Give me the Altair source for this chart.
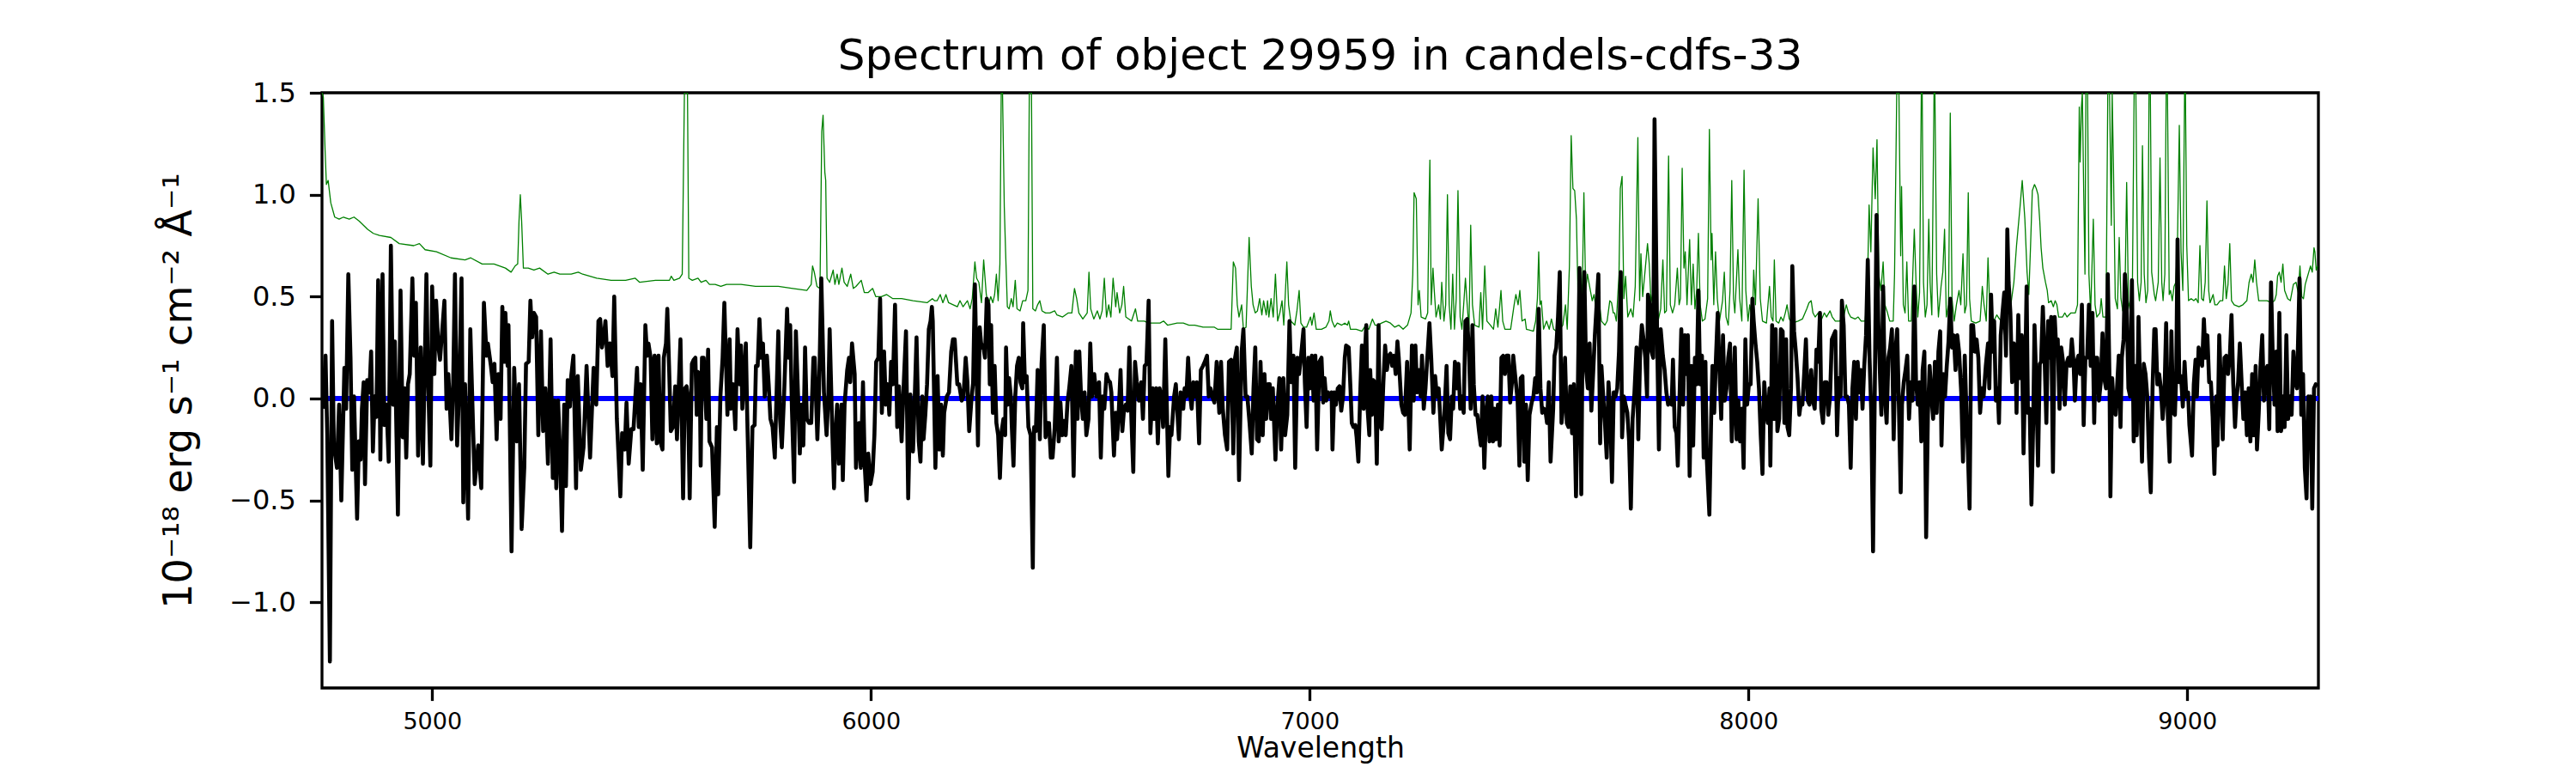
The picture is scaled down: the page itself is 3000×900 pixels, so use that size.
import altair as alt
import pandas as pd

TITLE = "Spectrum of object 29959 in candels-cdfs-33"
X_LABEL = "Wavelength"
Y_LABEL = "10⁻¹⁸ erg s⁻¹ cm⁻² Å⁻¹"
X_TICKS = [5000, 6000, 7000, 8000, 9000]
Y_TICKS = [-1.0, -0.5, 0.0, 0.5, 1.0, 1.5]
X_RANGE = [4749, 9299]
Y_RANGE = [-1.42, 1.5]

# ---- black: object flux (wavelength, flux) ----
flux_a = [(4751,-0.05),(4757,0.21),(4761,-0.18),(4767,-1.29),(4772,0.38),(4776,-0.23),(4783,-0.34),(4788,-0.03),(4793,-0.50),(4800,0.15),(4804,-0.05),(4809,0.61),(4814,0.20),(4818,-0.35),(4822,0.01),(4829,-0.59),(4833,-0.21),(4837,-0.30),(4840,-0.05),(4844,0.08),(4847,-0.42),(4852,0.09),(4857,0.03),(4861,0.23),(4865,-0.26),(4869,0.01),(4873,-0.09),(4877,0.58),(4880,0.20),(4882,-0.30),(4887,0.61),(4891,-0.13),(4896,-0.03),(4901,-0.31),(4906,0.75),(4911,-0.03),(4915,0.28),(4922,-0.57),(4928,0.53),(4933,-0.19),(4937,0.05),(4941,-0.29),(4945,0.07),(4949,0.12),(4955,0.59),(4959,0.21),(4963,0.47),(4968,-0.28),(4974,0.25),(4979,-0.32),(4987,0.61),(4990,0.16),(4996,-0.33),(5000,0.55),(5005,0.12),(5009,0.48),(5014,0.26),(5018,0.19),(5028,0.48),(5033,-0.05),(5037,0.12),(5044,-0.20),(5048,0.08),(5052,0.61),(5057,-0.23),(5062,0.07),(5067,0.59),(5071,-0.51),(5075,0.07),(5082,-0.59),(5087,0.34),(5097,-0.42),(5105,-0.23),(5112,-0.44),(5118,0.47),(5124,0.21),(5127,0.27),(5134,0.16),(5138,0.08),(5142,0.17),(5147,-0.20),(5151,0.12),(5156,-0.10),(5160,0.45),(5164,0.18),(5167,0.42),(5172,0.16),(5174,0.36),(5181,-0.75),(5187,0.15),(5193,-0.21),(5198,0.07),(5204,-0.64),(5210,-0.34),(5214,0.17),(5220,0.18),(5224,0.48),(5228,0.30),(5232,0.42),(5237,0.40),(5242,-0.18),(5248,0.33),(5253,-0.16),(5258,0.05),(5264,-0.32),(5270,0.29),(5275,-0.39),(5279,-0.01),(5283,-0.44),(5287,-0.01),(5291,-0.23),(5296,-0.65),(5301,-0.03),(5305,-0.43),(5309,0.09),(5314,-0.04),(5317,0.11),(5322,0.21),(5328,-0.44),(5332,0.11),(5339,-0.35),(5345,-0.24),(5352,0.16),(5360,-0.29),(5368,0.15),(5374,-0.03),(5379,0.38),(5383,0.39),(5387,0.25),(5391,0.30),(5395,0.38),(5400,0.16),(5405,0.27),(5411,0.11),(5415,0.50),(5421,-0.10),(5429,-0.48),(5433,-0.17),(5439,-0.25),(5443,-0.02),(5448,-0.32),(5454,-0.15),(5459,-0.15),(5467,0.15),(5471,-0.14),(5475,0.07),(5480,-0.35),(5486,0.36),(5490,0.21),(5493,0.27),(5498,0.20),(5502,-0.20),(5507,0.21)]

flux_b = [(5512,-0.22),(5516,0.21),(5520,-0.21),(5525,-0.25),(5528,0.20),(5533,0.27),(5536,0.44),(5540,0.16),(5544,-0.16),(5549,-0.14),(5554,0.06),(5558,-0.20),(5562,0.05),(5566,0.29),(5572,-0.49),(5576,0.05),(5580,0.06),(5583,0.01),(5587,-0.49),(5592,0.17),(5596,0.19),(5600,0.20),(5603,-0.08),(5606,0.13),(5610,0.12),(5612,-0.33),(5615,0.20),(5619,0.20),(5625,-0.10),(5629,0.24),(5632,-0.21),(5638,-0.24),(5644,-0.63),(5649,-0.14),(5652,-0.47),(5657,0.01),(5662,0.20),(5666,0.47),(5670,0.16),(5673,-0.08),(5678,0.29),(5681,-0.05),(5686,0.07),(5691,-0.15),(5696,0.34),(5701,0.07),(5704,0.26),(5707,-0.05),(5715,0.27),(5718,-0.07),(5725,-0.73),(5730,-0.14),(5735,-0.13),(5738,0.16),(5742,0.16),(5746,0.39),(5750,0.20),(5754,0.27),(5758,0.01),(5763,0.21),(5767,0.07),(5771,-0.10),(5776,-0.14),(5781,-0.29),(5789,0.33),(5793,-0.10),(5797,-0.24),(5802,0.01),(5809,0.44),(5812,0.20),(5816,0.36),(5820,-0.05),(5825,-0.41),(5829,0.33),(5835,-0.05),(5838,-0.27),(5842,-0.03),(5846,-0.23),(5850,0.25),(5854,-0.10),(5859,-0.12),(5864,-0.12),(5869,0.20),(5872,0.20),(5878,-0.20),(5882,0.05),(5887,0.59),(5893,0.03),(5899,-0.18),(5903,0.01),(5906,0.34),(5912,-0.16),(5916,-0.44),(5919,-0.18),(5923,-0.03),(5927,-0.32),(5933,-0.03),(5936,-0.40),(5940,-0.03),(5946,0.14),(5950,0.20),(5953,0.08),(5957,0.27),(5963,0.12),(5966,-0.34),(5973,-0.12),(5977,-0.34),(5982,0.08),(5986,-0.33),(5990,-0.50),(5994,-0.27),(5999,-0.42),(6004,-0.36),(6008,-0.18),(6012,0.18),(6017,0.20),(6021,0.49),(6025,-0.07),(6030,0.23),(6034,-0.03),(6038,0.07),(6042,-0.08),(6046,0.18),(6050,0.07),(6055,0.46),(6060,-0.14),(6064,0.06),(6070,-0.21),(6075,0.08),(6080,0.33),(6085,-0.49),(6090,0.02),(6096,-0.26),(6100,0.01),(6104,0.30),(6109,-0.21),(6113,-0.31),(6117,0.01),(6120,-0.20),(6124,-0.08),(6128,0.07),(6132,0.34),(6136,0.38),(6139,0.45),(6141,0.38),(6147,-0.34),(6152,0.11),(6156,-0.25),(6160,-0.03),(6164,-0.28),(6167,-0.07),(6173,0.01),(6178,0.03),(6183,0.23),(6187,0.29),(6191,0.29),(6197,0.07),(6201,0.07),(6207,-0.01),(6211,0.01),(6216,0.20),(6220,0.08),(6224,-0.16),(6229,-0.01),(6233,0.08),(6237,0.56),(6242,0.01),(6244,-0.23),(6248,0.35),(6252,0.25),(6256,0.26),(6260,0.20),(6264,0.49),(6268,0.46)]

flux_c = [(6271,0.07),(6274,0.36),(6278,-0.07),(6282,0.16),(6286,-0.12),(6290,-0.18),(6294,-0.39),(6298,-0.16),(6302,-0.10),(6306,-0.18),(6308,0.25),(6312,-0.03),(6315,0.10),(6319,0.01),(6321,-0.13),(6325,-0.33),(6329,0.01),(6333,0.16),(6337,0.20),(6341,0.08),(6345,0.05),(6347,0.37),(6351,0.08),(6355,0.11),(6359,-0.14),(6364,-0.18),(6369,-0.83),(6372,-0.14),(6376,-0.16),(6380,0.14),(6385,-0.20),(6389,0.17),(6394,0.36),(6398,-0.19),(6402,-0.12),(6406,-0.12),(6410,-0.29),(6414,-0.29),(6419,-0.14),(6424,0.20),(6428,-0.21),(6432,-0.02),(6436,-0.18),(6440,-0.11),(6444,-0.18),(6448,-0.02),(6452,0.05),(6457,0.16),(6462,-0.38),(6467,0.23),(6471,-0.10),(6475,0.23),(6479,0.01),(6483,-0.10),(6487,0.03),(6491,-0.18),(6496,-0.10),(6500,0.27),(6504,0.01),(6509,0.12),(6514,0.01),(6520,0.08),(6524,-0.29),(6528,0.01),(6532,-0.05),(6537,0.12),(6541,0.09),(6545,0.08),(6548,0.03),(6554,-0.28),(6558,-0.07),(6561,-0.20),(6565,-0.06),(6569,0.14),(6573,-0.16),(6577,-0.05),(6581,-0.03),(6585,-0.06),(6589,0.25),(6594,-0.12),(6598,-0.36),(6602,0.18),(6606,0.08),(6611,-0.01),(6616,0.08),(6620,-0.10),(6624,0.16),(6628,0.17),(6633,0.48),(6637,-0.17),(6642,0.05),(6646,-0.10),(6650,0.05),(6654,-0.22),(6658,0.05),(6662,0.01),(6666,-0.14),(6671,0.29),(6678,-0.38),(6682,-0.14),(6685,-0.18),(6691,0.01),(6695,0.07),(6698,-0.05),(6702,-0.20),(6706,0.03),(6712,-0.05),(6715,0.05),(6719,0.01),(6723,0.20),(6727,0.03),(6731,-0.05),(6735,0.08),(6739,0.01),(6743,0.08),(6748,-0.22),(6752,0.14),(6757,0.16),(6761,0.18),(6766,0.21),(6770,0.01),(6774,0.05),(6778,0.01),(6783,-0.02),(6788,0.18),(6794,-0.07),(6798,0.18),(6802,-0.05),(6807,-0.18),(6812,-0.25),(6816,0.18),(6821,0.19),(6826,-0.27),(6830,0.20),(6834,0.25),(6839,-0.40),(6845,0.23),(6849,0.34),(6854,0.01),(6858,0.01),(6863,-0.12),(6868,-0.27),(6872,0.05),(6876,0.25),(6880,-0.20),(6884,-0.21),(6888,0.18),(6893,-0.18),(6897,0.12),(6901,-0.10),(6905,0.07),(6909,0.07),(6912,-0.10),(6916,0.05),(6922,-0.30),(6926,-0.05),(6931,0.10),(6935,-0.25),(6940,0.10),(6944,-0.18),(6949,-0.08),(6954,0.38),(6958,0.08),(6963,0.21),(6967,-0.34),(6972,0.20),(6976,0.12),(6980,0.20),(6986,0.34),(6989,0.08),(6993,-0.14),(6997,0.20),(7001,0.05),(7005,0.21),(7009,-0.01),(7013,0.21),(7017,-0.25),(7022,0.18),(7027,0.20)]

flux_d = [(7031,-0.02),(7034,0.10),(7038,-0.01),(7042,0.03),(7046,0.01),(7050,0.03),(7052,-0.25),(7056,0.03),(7060,-0.03),(7064,0.05),(7068,0.06),(7072,-0.06),(7076,0.01),(7080,0.20),(7083,0.26),(7089,0.25),(7093,0.05),(7096,-0.12),(7100,-0.14),(7104,-0.13),(7107,-0.19),(7111,-0.31),(7115,0.01),(7119,0.26),(7123,-0.05),(7125,0.18),(7129,0.36),(7132,-0.05),(7136,-0.18),(7138,0.14),(7142,-0.08),(7145,0.09),(7149,0.08),(7153,-0.32),(7157,0.36),(7160,-0.12),(7164,-0.15),(7168,0.08),(7172,0.26),(7176,0.14),(7180,0.21),(7184,0.22),(7188,0.16),(7192,0.21),(7196,0.12),(7200,0.28),(7203,0.20),(7209,-0.03),(7213,-0.07),(7217,-0.08),(7222,0.18),(7228,-0.25),(7233,0.26),(7237,-0.01),(7241,0.26),(7245,0.03),(7249,0.14),(7253,0.01),(7256,0.21),(7260,-0.05),(7264,0.05),(7267,0.16),(7273,0.37),(7277,0.20),(7282,-0.07),(7286,0.11),(7290,0.01),(7294,0.05),(7297,-0.07),(7301,-0.25),(7307,-0.08),(7312,0.16),(7316,-0.17),(7320,-0.20),(7324,0.01),(7327,-0.05),(7331,0.18),(7335,0.05),(7339,0.17),(7343,-0.05),(7347,0.01),(7351,-0.07),(7355,0.38),(7359,0.39),(7363,0.23),(7367,-0.05),(7371,0.36),(7374,0.07),(7378,-0.08),(7382,-0.08),(7386,-0.16),(7390,-0.23),(7394,0.01),(7398,-0.34),(7402,-0.07),(7406,0.01),(7410,-0.21),(7414,0.01),(7418,-0.21),(7421,-0.05),(7425,-0.20),(7429,-0.03),(7433,-0.23),(7437,0.20),(7441,0.21),(7445,0.12),(7449,0.21),(7453,0.21),(7457,-0.02),(7461,0.08),(7464,0.21),(7468,0.12),(7474,-0.01),(7478,-0.33),(7481,0.10),(7485,0.11),(7489,-0.31),(7493,-0.03),(7497,-0.40),(7501,-0.08),(7506,-0.02),(7510,0.01),(7514,0.10),(7518,0.03),(7522,0.44),(7526,0.05),(7530,-0.07),(7534,-0.05),(7538,-0.07),(7541,-0.12),(7545,0.08),(7549,-0.31),(7555,-0.05),(7558,0.21),(7562,0.25),(7566,0.40),(7570,0.62),(7574,-0.12),(7578,-0.03),(7582,0.20),(7586,-0.12),(7590,-0.14),(7594,0.06),(7598,-0.17),(7602,0.07),(7607,-0.48),(7611,0.01),(7615,0.64),(7619,-0.47),(7622,0.33),(7626,0.62),(7630,0.14),(7634,0.05),(7638,0.27),(7642,-0.06),(7646,0.12),(7650,0.31),(7654,0.46),(7658,0.61),(7662,-0.22),(7665,0.16),(7669,0.01),(7673,-0.12),(7677,-0.29),(7681,0.08),(7685,-0.06),(7689,-0.41),(7693,0.03),(7697,0.01),(7701,0.05),(7705,0.23),(7709,0.62),(7712,-0.19),(7716,0.01),(7720,-0.03),(7724,-0.07),(7728,-0.21),(7732,-0.54),(7736,-0.10),(7740,0.02),(7745,0.25),(7749,-0.20),(7753,0.21),(7757,0.36),(7761,0.29),(7765,0.20),(7769,0.01),(7771,0.51),(7775,0.46),(7779,0.23),(7783,0.20),(7786,1.37)]

flux_e = [(7792,0.29),(7796,-0.25),(7800,0.34),(7805,0.21),(7809,0.14),(7813,0.03),(7817,-0.03),(7821,-0.01),(7825,-0.03),(7828,0.19),(7832,-0.14),(7836,-0.17),(7839,-0.33),(7843,0.01),(7847,0.34),(7851,-0.03),(7855,0.31),(7858,0.12),(7862,0.31),(7866,-0.38),(7870,0.16),(7874,-0.23),(7878,0.20),(7882,0.07),(7886,0.53),(7890,0.07),(7894,0.21),(7898,-0.29),(7902,0.18),(7905,-0.29),(7911,-0.57),(7915,-0.10),(7918,0.16),(7922,-0.07),(7926,0.20),(7930,0.42),(7934,0.14),(7938,-0.10),(7942,0.31),(7946,-0.01),(7950,0.05),(7954,0.20),(7958,0.27),(7962,-0.21),(7965,-0.03),(7969,0.25),(7973,-0.20),(7977,-0.01),(7981,-0.21),(7985,-0.05),(7989,-0.34),(7993,0.29),(7997,-0.03),(8001,0.07),(8005,0.07),(8009,0.49),(8012,0.38),(8016,0.27),(8020,0.18),(8024,0.05),(8028,-0.18),(8032,-0.37),(8036,0.08),(8040,-0.05),(8044,-0.12),(8048,0.05),(8050,-0.33),(8054,0.36),(8058,-0.10),(8062,0.34),(8066,-0.16),(8070,-0.10),(8074,0.34),(8078,0.33),(8082,-0.12),(8086,0.29),(8089,-0.14),(8093,-0.18),(8097,0.05),(8100,0.65),(8104,0.33),(8108,0.23),(8112,0.10),(8116,-0.08),(8120,-0.01),(8123,-0.03),(8127,0.12),(8131,0.29),(8135,-0.01),(8139,-0.03),(8143,0.14),(8147,-0.01),(8151,-0.05),(8155,0.24),(8159,0.18),(8163,0.42),(8166,-0.05),(8170,-0.12),(8174,0.08),(8178,0.08),(8182,-0.08),(8186,0.01),(8190,0.29),(8194,0.31),(8198,0.33),(8202,-0.18),(8206,0.10),(8210,0.01),(8213,0.48),(8217,0.36),(8221,0.01),(8225,0.01),(8229,-0.03),(8233,-0.34),(8237,0.05),(8241,0.18),(8245,-0.10),(8249,0.18),(8253,0.03),(8256,0.14),(8260,-0.05),(8264,0.16),(8268,0.31),(8272,0.68),(8276,0.20),(8280,-0.07),(8284,-0.75),(8288,0.05),(8292,0.90),(8296,0.38),(8300,0.10),(8303,-0.08),(8307,0.55),(8311,0.01),(8315,-0.12),(8319,0.20),(8323,0.25),(8327,0.34),(8331,-0.20),(8335,0.23),(8339,0.34),(8343,-0.05),(8347,-0.46),(8350,-0.03),(8354,0.08),(8358,0.14),(8362,0.21),(8366,-0.10),(8370,0.08),(8374,-0.01),(8378,0.55),(8382,0.08),(8386,-0.03),(8390,0.08),(8394,-0.21),(8397,0.14),(8401,0.23),(8405,-0.68),(8409,-0.08),(8413,0.16),(8417,0.01),(8421,-0.10),(8425,0.18),(8429,-0.07),(8433,0.23),(8437,0.33),(8440,-0.23),(8444,0.12),(8448,0.01),(8452,0.16),(8456,0.28),(8460,0.49),(8464,0.25),(8468,0.31),(8472,0.14),(8476,0.31),(8480,0.23),(8485,0.03),(8489,-0.31),(8493,0.21),(8497,-0.08),(8500,-0.25),(8504,-0.54),(8508,0.36),(8512,0.36),(8516,0.23),(8520,0.29),(8524,0.20),(8528,-0.07),(8532,0.05),(8536,0.01),(8541,0.16),(8546,0.27)]

flux_f = [(8549,0.05),(8553,0.51),(8557,0.23),(8560,0.38),(8564,-0.01),(8568,0.05),(8571,-0.12),(8575,0.31),(8579,0.42),(8583,0.52),(8587,0.21),(8590,0.83),(8593,0.57),(8597,0.42),(8601,0.08),(8605,0.27),(8609,0.20),(8611,-0.07),(8615,0.41),(8619,0.10),(8623,0.31),(8627,-0.27),(8631,0.16),(8634,0.55),(8637,-0.07),(8641,-0.05),(8645,-0.52),(8649,-0.12),(8652,0.36),(8656,0.08),(8660,-0.33),(8664,0.17),(8667,0.18),(8671,0.45),(8675,0.20),(8679,-0.12),(8683,0.38),(8687,0.20),(8690,0.40),(8694,-0.36),(8698,0.40),(8701,0.27),(8705,0.29),(8709,-0.05),(8713,0.25),(8717,0.18),(8721,-0.03),(8725,0.17),(8729,0.20),(8733,0.16),(8737,0.29),(8741,0.18),(8744,-0.01),(8748,0.18),(8752,0.21),(8756,0.12),(8760,0.46),(8764,-0.13),(8768,0.20),(8772,0.20),(8776,0.46),(8780,0.16),(8784,0.42),(8788,-0.12),(8791,0.20),(8795,0.20),(8799,-0.01),(8803,0.08),(8807,0.32),(8811,0.10),(8815,0.05),(8819,0.61),(8823,0.08),(8825,-0.48),(8829,0.10),(8833,-0.05),(8837,-0.08),(8840,0.05),(8844,0.21),(8848,-0.14),(8851,0.20),(8855,0.29),(8858,0.61),(8862,0.46),(8866,0.05),(8870,0.01),(8874,0.58),(8878,-0.21),(8882,0.16),(8885,-0.18),(8889,0.40),(8893,0.01),(8897,-0.31),(8901,0.17),(8905,0.12),(8909,0.01),(8913,-0.29),(8917,-0.46),(8921,0.05),(8925,0.34),(8928,0.34),(8932,0.07),(8936,0.12),(8940,0.05),(8944,-0.10),(8948,0.01),(8952,0.37),(8956,-0.10),(8960,-0.31),(8964,0.33),(8968,-0.07),(8972,-0.08),(8975,0.12),(8978,0.78),(8982,0.08),(8986,0.11),(8990,-0.04),(8994,0.18),(8998,0.01),(9002,0.03),(9005,-0.13),(9011,-0.28),(9015,0.07),(9019,0.19),(9022,0.01),(9026,0.25),(9030,0.20),(9034,0.16),(9038,0.39),(9042,0.20),(9046,0.31),(9050,0.08),(9054,0.08),(9058,-0.09),(9062,-0.37),(9066,0.01),(9069,-0.23),(9073,0.31),(9077,0.05),(9081,-0.20),(9085,0.20),(9089,0.21),(9093,0.12),(9097,0.20),(9101,0.41),(9105,0.07),(9109,-0.14),(9112,-0.01),(9116,0.08),(9120,0.27),(9124,0.08),(9128,-0.10),(9132,0.03),(9136,-0.18),(9140,0.05),(9144,-0.21),(9148,0.12),(9152,-0.18),(9156,0.16),(9159,-0.25),(9163,-0.07),(9167,0.16),(9171,0.31),(9175,-0.01),(9179,0.14),(9183,0.16),(9187,-0.15),(9191,0.57),(9195,0.20),(9199,-0.03),(9203,0.23),(9206,-0.16),(9210,0.42),(9214,-0.16),(9218,0.01),(9222,-0.14),(9226,0.31),(9230,-0.10),(9234,0.01),(9238,-0.08),(9242,0.23),(9246,0.08),(9250,0.05),(9253,0.31),(9256,0.59),(9260,-0.08),(9264,0.12),(9268,-0.34),(9272,-0.49),(9276,0.01),(9278,-0.07),(9281,0.01),(9285,-0.54),(9289,0.05),(9293,0.07),(9297,0.06)]

# ---- green: noise / sky spectrum (wavelength, value); 1.6 = runs off the top ----
sky_a = [(4749,1.6),(4752,1.48),(4756,1.22),(4759,1.05),(4763,1.07),(4769,0.96),(4778,0.89),(4788,0.88),(4798,0.89),(4811,0.88),(4822,0.89),(4834,0.87),(4853,0.83),(4866,0.81),(4880,0.80),(4906,0.79),(4925,0.76),(4958,0.75),(4971,0.76),(4984,0.73),(5010,0.72),(5043,0.69),(5075,0.68),(5088,0.69),(5114,0.66),(5141,0.66),(5167,0.64),(5180,0.62),(5189,0.65),(5195,0.66),(5198,0.87),(5201,1.00),(5204,0.87),(5208,0.64),(5219,0.64),(5232,0.63),(5245,0.64),(5264,0.61),(5278,0.62),(5291,0.61),(5317,0.61),(5333,0.62),(5343,0.61),(5375,0.59),(5408,0.58),(5441,0.58),(5463,0.59),(5473,0.57),(5509,0.58)]

sky_b = [(5541,0.58),(5545,0.60),(5551,0.58),(5564,0.59),(5570,0.61),(5575,1.6),(5582,1.6),(5585,0.59),(5593,0.58),(5606,0.59),(5613,0.57),(5624,0.58),(5632,0.56),(5645,0.56),(5658,0.55),(5671,0.56),(5704,0.56),(5737,0.55),(5769,0.55),(5789,0.55),(5822,0.54),(5854,0.53),(5864,0.56),(5867,0.65),(5871,0.62),(5877,0.55),(5884,0.54),(5888,1.31),(5891,1.39),(5895,1.11),(5897,1.07),(5900,0.59),(5906,0.57),(5914,0.63),(5918,0.56),(5923,0.61),(5927,0.56),(5934,0.64),(5939,0.57),(5946,0.55),(5954,0.61),(5960,0.54),(5966,0.55),(5978,0.58),(5985,0.52),(5994,0.52),(6004,0.54),(6011,0.50),(6024,0.50),(6036,0.51),(6050,0.49),(6070,0.49),(6096,0.48),(6128,0.47),(6140,0.49),(6145,0.48),(6151,0.48),(6158,0.51),(6164,0.47),(6171,0.51),(6177,0.47),(6197,0.45),(6203,0.48),(6210,0.45),(6220,0.48),(6226,0.44),(6231,0.49),(6237,0.67),(6241,0.59),(6246,0.57),(6252,0.47),(6257,0.68),(6263,0.51)]

sky_c = [(6268,0.46),(6273,0.50),(6278,0.47),(6282,0.51),(6286,0.61),(6290,0.48),(6294,0.66),(6297,1.6),(6300,1.6),(6304,0.94),(6307,0.72),(6311,0.45),(6315,0.44),(6320,0.49),(6324,0.45),(6329,0.58),(6333,0.44),(6340,0.43),(6346,0.48),(6353,0.48),(6358,0.53),(6361,1.6),(6366,1.6),(6369,0.44),(6375,0.43),(6380,0.46),(6385,0.48),(6390,0.43),(6398,0.42),(6408,0.42),(6419,0.43),(6424,0.41),(6437,0.40),(6450,0.42),(6458,0.42),(6464,0.54),(6469,0.49),(6474,0.42),(6483,0.39),(6493,0.42),(6497,0.62),(6501,0.44),(6508,0.39),(6516,0.43),(6522,0.39),(6527,0.43),(6532,0.59),(6537,0.40),(6542,0.46),(6547,0.40),(6552,0.59),(6558,0.45),(6561,0.52),(6567,0.42),(6572,0.46),(6576,0.55),(6581,0.40),(6594,0.38),(6603,0.44),(6608,0.38),(6623,0.38),(6633,0.37),(6659,0.37),(6667,0.38),(6676,0.36),(6698,0.37),(6712,0.37),(6725,0.36),(6738,0.36),(6757,0.35),(6783,0.35),(6790,0.34),(6821,0.34),(6826,0.67),(6831,0.64),(6835,0.46),(6839,0.40),(6845,0.46),(6849,0.34),(6855,0.35),(6862,0.79),(6867,0.55),(6871,0.46),(6876,0.42),(6881,0.43),(6886,0.49),(6891,0.41),(6895,0.48),(6901,0.41),(6904,0.48),(6907,0.40),(6912,0.49),(6917,0.40),(6922,0.61),(6927,0.38),(6932,0.42),(6937,0.48),(6941,0.36),(6948,0.67),(6952,0.46),(6957,0.38),(6966,0.36),(6971,0.43),(6976,0.53),(6980,0.37),(6986,0.35),(6993,0.35),(7002,0.40),(7005,0.36),(7010,0.42),(7015,0.34),(7027,0.34)]

sky_d = [(7037,0.35),(7044,0.38),(7047,0.43),(7051,0.38),(7057,0.35),(7063,0.37),(7073,0.36),(7080,0.37),(7086,0.36),(7089,0.38),(7093,0.34),(7106,0.34),(7119,0.33),(7125,0.35),(7135,0.34),(7143,0.39),(7149,0.36),(7155,0.36),(7164,0.37),(7174,0.38),(7184,0.37),(7194,0.35),(7203,0.36),(7213,0.34),(7223,0.36),(7231,0.42),(7235,0.61),(7238,1.01),(7243,0.98),(7247,0.46),(7250,0.53),(7254,0.40),(7264,0.39),(7269,0.42),(7272,0.94),(7274,1.17),(7277,0.46),(7281,0.64),(7284,0.53),(7288,0.40),(7294,0.46),(7298,0.39),(7301,0.57),(7306,0.38),(7310,0.46),(7314,1.00),(7318,0.46),(7322,0.34),(7326,0.61),(7330,0.34),(7334,0.49),(7338,1.02),(7343,0.40),(7347,0.34),(7351,0.46),(7355,0.59),(7359,0.46),(7363,0.34),(7367,0.85),(7371,0.46),(7376,0.36),(7386,0.35),(7390,0.52),(7394,0.34),(7399,0.65),(7404,0.38),(7412,0.36),(7419,0.34),(7424,0.44),(7429,0.35),(7436,0.53),(7440,0.38),(7445,0.34),(7458,0.34),(7466,0.46),(7470,0.51),(7475,0.46),(7479,0.53),(7484,0.38),(7491,0.39),(7494,0.34),(7510,0.33),(7515,0.38),(7519,0.49),(7522,0.72),(7525,0.46),(7528,0.48),(7533,0.34),(7540,0.38),(7546,0.34),(7551,0.39),(7556,0.34),(7562,0.33),(7570,0.34),(7577,0.36),(7583,0.46),(7587,0.34),(7592,0.65),(7596,1.29),(7600,1.03),(7604,1.02),(7608,0.88),(7612,0.46),(7617,0.62),(7621,0.49),(7625,1.01),(7629,0.53),(7633,0.61),(7638,0.55),(7644,0.48),(7648,0.51),(7654,0.42),(7660,0.47),(7665,0.38),(7673,0.36),(7678,0.38),(7684,0.48),(7688,0.47),(7692,0.42),(7695,0.42),(7699,0.38),(7705,0.61),(7708,1.03),(7712,1.09),(7716,0.49),(7720,0.60),(7725,0.40),(7732,0.44),(7737,0.40),(7742,0.55),(7748,1.28),(7752,0.48),(7755,0.71),(7759,0.50),(7765,0.64),(7770,0.76),(7774,0.66),(7778,0.47),(7783,0.53),(7787,0.45)]

sky_e = [(7792,0.36),(7796,0.40),(7800,0.44),(7805,0.68),(7809,0.42),(7813,0.43),(7818,1.19),(7822,0.46),(7827,0.42),(7832,0.46),(7838,0.64),(7842,0.46),(7845,0.49),(7849,1.13),(7853,0.64),(7856,0.72),(7860,0.46),(7864,0.68),(7866,0.78),(7870,0.46),(7874,0.66),(7878,0.44),(7882,0.53),(7886,0.81),(7890,0.46),(7895,0.38),(7901,0.39),(7907,0.49),(7911,1.32),(7915,0.68),(7917,0.81),(7921,0.46),(7925,0.72),(7929,0.49),(7934,0.38),(7941,0.48),(7945,0.62),(7949,0.40),(7954,0.36),(7958,0.53),(7962,1.07),(7966,0.49),(7969,0.42),(7976,0.73),(7980,0.49),(7985,0.38),(7990,1.12),(7994,0.53),(7999,0.38),(8003,0.46),(8009,0.38),(8012,0.63),(8016,0.46),(8022,0.98),(8027,0.49),(8032,0.38),(8041,0.37),(8048,0.55),(8052,0.40),(8056,0.38),(8059,0.68),(8063,0.38),(8069,0.37),(8074,0.40),(8079,0.38),(8084,0.42),(8088,0.46),(8093,0.39),(8100,0.37),(8113,0.38),(8123,0.39),(8133,0.44),(8138,0.47),(8143,0.48),(8147,0.42),(8152,0.40),(8159,0.42),(8165,0.38),(8173,0.42),(8178,0.40),(8186,0.43),(8191,0.40),(8198,0.38),(8208,0.38),(8217,0.40),(8223,0.46),(8228,0.42),(8233,0.40),(8243,0.39),(8250,0.40),(8257,0.38),(8266,0.38),(8271,0.53),(8275,0.95),(8279,0.72),(8284,1.23),(8289,0.98),(8293,1.27),(8297,0.61),(8302,0.53),(8307,0.67),(8311,0.46),(8317,0.42),(8322,0.38),(8330,0.38),(8333,0.61),(8338,1.6),(8343,1.6),(8347,0.70),(8349,1.04),(8353,0.46),(8357,0.42),(8361,0.67),(8365,0.38),(8371,0.38),(8378,0.83),(8382,0.57),(8386,0.40),(8390,0.52),(8394,1.6),(8396,1.6),(8399,0.57),(8403,0.40),(8407,0.46),(8411,0.88),(8414,0.57),(8418,0.41),(8423,1.6),(8425,1.6),(8429,0.61),(8433,0.40),(8439,0.55),(8443,0.62),(8447,0.83),(8451,0.40),(8456,0.46),(8460,1.40),(8464,0.49),(8469,0.38),(8474,0.46),(8480,0.53),(8484,0.46),(8489,0.71),(8493,0.42),(8497,0.46),(8501,1.01),(8504,0.49),(8508,0.38),(8518,0.37),(8528,0.38),(8533,0.55),(8537,0.46),(8542,0.38),(8546,0.69)]

sky_f = [(8551,0.38),(8559,0.38),(8566,0.41),(8572,0.39),(8579,0.38),(8585,0.42),(8592,0.43),(8598,0.46),(8605,0.57),(8611,0.75),(8619,0.94),(8624,1.07),(8630,0.88),(8635,0.62),(8639,0.51),(8643,0.75),(8647,1.02),(8652,1.05),(8656,1.03),(8660,1.00),(8664,0.87),(8667,0.74),(8671,0.64),(8677,0.57),(8681,0.53),(8684,0.47),(8690,0.48),(8695,0.45),(8699,0.48),(8703,0.46),(8707,0.40),(8716,0.40),(8721,0.42),(8726,0.40),(8735,0.42),(8745,0.42),(8750,0.46),(8754,1.43),(8756,1.16),(8759,1.43),(8761,1.6),(8764,1.03),(8767,0.61),(8769,1.6),(8773,1.6),(8776,0.61),(8780,0.42),(8786,0.88),(8790,0.46),(8794,0.40),(8801,0.42),(8804,0.49),(8808,0.40),(8815,0.40),(8819,1.6),(8823,1.6),(8827,0.85),(8829,1.6),(8832,1.13),(8836,0.49),(8841,0.44),(8845,0.79),(8849,0.49),(8853,0.43),(8858,0.49),(8862,1.06),(8866,0.48),(8870,0.43),(8875,0.53),(8879,1.6),(8883,1.6),(8887,0.57),(8891,0.48),(8895,0.57),(8898,1.24),(8902,0.61),(8906,0.47),(8910,0.53),(8913,1.6),(8916,1.6),(8919,0.62),(8925,0.51),(8928,0.48),(8934,0.57),(8938,1.18),(8942,0.57),(8945,0.48),(8949,0.61),(8952,1.6),(8955,1.6),(8959,0.51),(8962,0.53),(8966,0.48),(8970,0.55),(8974,0.57),(8978,0.79),(8982,1.34),(8986,0.72),(8990,0.53),(8994,1.6),(8996,1.6),(8999,0.75),(9003,0.48),(9009,0.49),(9015,0.48),(9020,0.49),(9025,0.47),(9029,0.75),(9033,0.49),(9037,0.48),(9041,0.57),(9045,0.97),(9049,0.53),(9052,0.47),(9059,0.51),(9063,0.46),(9068,0.46),(9075,0.48),(9081,0.48),(9085,0.65),(9089,0.49),(9093,0.56),(9097,0.76),(9101,0.48),(9107,0.46),(9118,0.45),(9127,0.46),(9136,0.48),(9141,0.57),(9146,0.61),(9150,0.57),(9154,0.68),(9158,0.57),(9163,0.48),(9173,0.48),(9182,0.48),(9192,0.47),(9199,0.48),(9203,0.51),(9206,0.60),(9210,0.62),(9214,0.57),(9218,0.66),(9222,0.53),(9229,0.49),(9235,0.48),(9242,0.56),(9248,0.57),(9253,0.52),(9257,0.65),(9261,0.50),(9265,0.49),(9269,0.56),(9273,0.59),(9277,0.62),(9281,0.65),(9285,0.62),(9289,0.74),(9291,0.72),(9294,0.63),(9297,0.65)]

# ---- blue: zero level ----
zero_line = [(4749, 0.0), (9299, 0.0)]

FONT = "DejaVu Sans"

flux_df = pd.DataFrame(flux_a + flux_b + flux_c + flux_d + flux_e + flux_f, columns=["wave", "flux"])
sky_df = pd.DataFrame(sky_a + sky_b + sky_c + sky_d + sky_e + sky_f, columns=["wave", "flux"])
zero_df = pd.DataFrame(zero_line, columns=["wave", "flux"])

x_enc = alt.X(
    "wave:Q",
    scale=alt.Scale(domain=X_RANGE, nice=False, zero=False, clamp=True),
    axis=alt.Axis(
        values=X_TICKS, format="d", title=X_LABEL, grid=False, domain=False,
        tickSize=14.6, tickWidth=3.3, tickColor="black",
        labelFont=FONT, labelFontSize=27, labelColor="black", labelPadding=12,
        titleFont=FONT, titleFontSize=33, titleFontWeight="normal", titleColor="black",
        titlePadding=2, labelFlush=False,
    ),
)
y_enc = alt.Y(
    "flux:Q",
    scale=alt.Scale(domain=Y_RANGE, nice=False, zero=False, clamp=True),
    axis=alt.Axis(
        values=Y_TICKS, format=".1f", title=Y_LABEL, grid=False, domain=False,
        tickSize=14.6, tickWidth=3.3, tickColor="black",
        labelFont=FONT, labelFontSize=32, labelColor="black", labelPadding=16,
        titleFont=FONT, titleFontSize=46, titleFontWeight="normal", titleColor="black",
        titlePadding=34, labelFlush=False,
    ),
)

sky = alt.Chart(sky_df).mark_line(color="#008000", strokeWidth=1.3, clip=True, strokeJoin="round").encode(x=x_enc, y=y_enc)
zero = alt.Chart(zero_df).mark_line(color="#0000ff", strokeWidth=6, clip=True).encode(x=x_enc, y=y_enc)
flux = alt.Chart(flux_df).mark_line(color="#000000", strokeWidth=4.6, clip=True, strokeJoin="round").encode(x=x_enc, y=y_enc)

chart = alt.layer(sky, zero, flux).properties(
    width=2325,
    height=693,
    title=alt.TitleParams(
        TITLE, font=FONT, fontSize=50, fontWeight="normal", color="black",
        anchor="middle", baseline="alphabetic", offset=-39,
    ),
    autosize=alt.AutoSizeParams(type="none"),
    padding={"left": 367, "top": 100, "right": 292, "bottom": 91},
).configure(
    background="white"
).configure_view(
    stroke="black", strokeWidth=3.3
)

chart.save("out.html", embed_options={"renderer": "svg", "actions": False})
